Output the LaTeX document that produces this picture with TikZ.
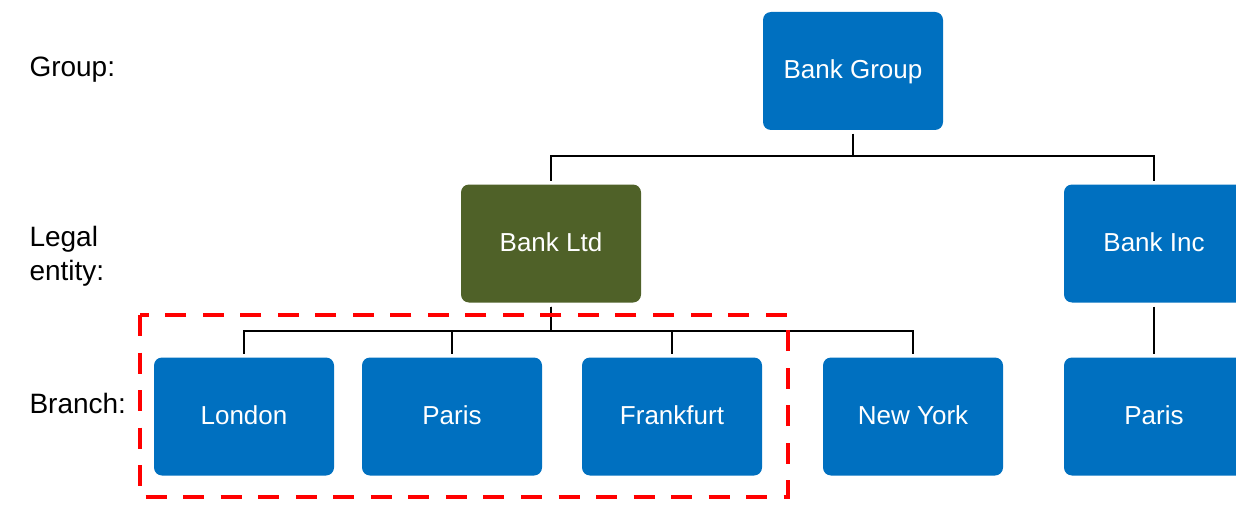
\documentclass[tikz,border=0pt]{standalone}
\usepackage{fontspec}
\setmainfont{Liberation Sans}

\definecolor{boxblue}{RGB}{0,112,192}
\definecolor{ltdgreen}{RGB}{79,97,40}

\tikzset{every picture/.style={line width=0.75pt}}
\tikzset{
	unit/.style={rounded corners=6pt, fill=boxblue, text=white, minimum width=135pt, minimum height=88.5pt, inner sep=0pt, outer sep=3pt, text height=14.5pt, text depth=2.5pt, font=\fontsize{19.5}{23}\selectfont},
	level/.style={inner sep=0pt, font=\fontsize{21}{25.5}\selectfont},
	conn/.style={line width=1.5pt, black},
	scopebox/.style={draw=red, line width=3.3pt, dash pattern=on 15.75pt off 12.4pt}
}

\begin{document}
\begin{tikzpicture}[x=0.75pt,y=0.75pt,yscale=-1,xscale=1]
	\useasboundingbox (0,0) rectangle (1236,510);
	\clip (0,0) rectangle (1236,510);

	% Text Node
	\node [level, anchor=base west] (lgroup) at (29,77) {Group:};
	% Text Node
	\node [level, anchor=north west, align=left] (lentity) at (29,226) {Legal\\entity:};
	% Text Node
	\node [level, anchor=base west] (lbranch) at (29,413) {Branch:};

	%Group [id:grp]
	\node [unit] (grp) at (853,71) {Bank Group};
	%Legal entities
	\node [unit, fill=ltdgreen] (ltd) at (551,243.5) {Bank Ltd};
	\node [unit] (inc) at (1154,243.5) {Bank Inc};
	%Branches
	\node [unit] (lon) at (244,416.5) {London};
	\node [unit] (par) at (452,416.5) {Paris};
	\node [unit] (fra) at (672,416.5) {Frankfurt};
	\node [unit] (nyc) at (913,416.5) {New York};
	\node [unit] (parinc) at (1154,416.5) {Paris};

	%Straight Lines
	\draw [conn] (grp.south) -- ++(0,22) -| (ltd.north);
	\draw [conn] (grp.south) -- ++(0,22) -| (inc.north);
	\draw [conn] (ltd.south) -- ++(0,24) -| (lon.north);
	\draw [conn] (ltd.south) -- ++(0,24) -| (par.north);
	\draw [conn] (ltd.south) -- ++(0,24) -| (fra.north);
	\draw [conn] (ltd.south) -- ++(0,24) -| (nyc.north);
	\draw [conn] (inc) -- (parinc);

	%Shape: Rectangle [id:dashed]
	\draw [scopebox] (140,315) rectangle (788,497);

\end{tikzpicture}
\end{document}
